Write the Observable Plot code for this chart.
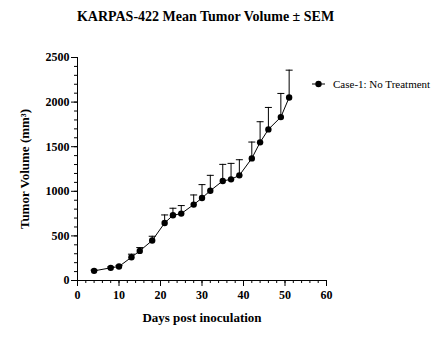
<!DOCTYPE html>
<html><head><meta charset="utf-8">
<script src="https://cdn.jsdelivr.net/npm/d3@7"></script>
<script src="https://cdn.jsdelivr.net/npm/@observablehq/plot@0.6"></script>
<style>
body{margin:0;background:#fff;font-family:"Liberation Serif","Times New Roman",serif;}
#wrap{position:relative;width:443px;height:350px;}
#title{height:30px;line-height:34px;text-align:center;font-weight:bold;font-size:14px;padding-right:32px;box-sizing:border-box;}
#legend{position:absolute;left:311px;top:78px;font-size:11px;display:flex;align-items:center;}
#legend svg{margin-right:7px;}
</style></head>
<body><div id="wrap"><div id="title">KARPAS-422 Mean Tumor Volume ± SEM</div><div id="chart"></div>
<div id="legend"><svg width="15" height="10"><line x1="1" x2="14" y1="5" y2="5" stroke="#000"/><circle cx="7.5" cy="5" r="3.2" fill="#000"/></svg><span>Case-1: No Treatment</span></div></div>
<script>
const days = [4, 8, 10, 13, 15, 18, 21, 23, 25, 28, 30, 32, 35, 37, 39, 42, 44, 46, 49, 51];
const meanVol = [108, 142, 157, 261, 332, 448, 645, 731, 750, 851, 925, 1007, 1116, 1134, 1179, 1369, 1549, 1694, 1832, 2052];
const sem = [8, 10, 12, 34, 37, 48, 90, 79, 90, 108, 150, 172, 186, 179, 175, 183, 231, 246, 265, 306];
const seriesName = "Case-1: No Treatment";
const xTicks = [0, 10, 20, 30, 40, 50, 60];
const yTicks = [0, 500, 1000, 1500, 2000, 2500];

const data = days.map((d, i) => ({day: d, v: meanVol[i], top: meanVol[i] + sem[i], series: seriesName}));
const xMinor = d3.range(0, 61, 2);
const yMinor = d3.range(0, 2501, 100);
const capSymbol = {draw(ctx) { ctx.moveTo(-3.5, 0); ctx.lineTo(3.5, 0); }};

const chart = Plot.plot({
  width: 443, height: 320,
  marginLeft: 77, marginRight: 117, marginTop: 27, marginBottom: 70,
  style: {fontFamily: '"Liberation Serif","Times New Roman",serif', background: "#fff", color: "#000"},
  x: {type: "linear", domain: [0, 60]},
  y: {type: "linear", domain: [0, 2500]},
  marks: [
    Plot.ruleX(data, {x: "day", y1: "v", y2: "top", stroke: "#000", strokeWidth: 1}),
    Plot.dot(data, {x: "day", y: "top", symbol: capSymbol, r: 3.5, stroke: "#000", strokeWidth: 1, fill: "none"}),
    Plot.line(data, {x: "day", y: "v", stroke: "#000", strokeWidth: 1}),
    Plot.dot(data, {x: "day", y: "v", r: 3.2, fill: "#000", stroke: "none"}),
    Plot.axisX({ticks: xMinor, tickSize: 3, text: null, label: null}),
    Plot.axisX({ticks: xTicks, tickSize: 6, tickPadding: 4, fontSize: 12, fontWeight: "bold", tickFormat: d => String(d),
      label: "Days post inoculation", labelAnchor: "center", labelArrow: "none", labelOffset: 41}),
    Plot.axisY({ticks: yMinor, tickSize: 3, text: null, label: null}),
    Plot.axisY({ticks: yTicks, tickSize: 6, tickPadding: 2, fontSize: 12, fontWeight: "bold", tickFormat: d => String(d),
      label: "Tumor Volume (mm³)", labelAnchor: "center", labelArrow: "none", labelOffset: 58}),
    Plot.ruleX([0], {stroke: "#000"}),
    Plot.ruleY([0], {stroke: "#000"})
  ]
});
d3.select(chart).selectAll("[aria-label='x-axis label'] text, [aria-label='y-axis label'] text")
  .style("font-size", "13px").style("font-weight", "bold");
document.getElementById("chart").appendChild(chart);
</script></body></html>
